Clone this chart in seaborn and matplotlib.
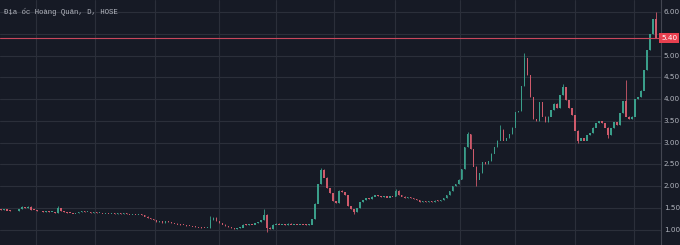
import numpy as np
import pandas as pd
import matplotlib
matplotlib.use("Agg")
import matplotlib.pyplot as plt
import seaborn as sns

title = "Địa ốc Hoàng Quân, D, HOSE"
last_price = 5.40
y_ticks = [1.0, 1.5, 2.0, 2.5, 3.0, 3.5, 4.0, 4.5, 5.0, 5.5, 6.0]

closes = [
    1.45, 1.48, 1.44, 1.43, 1.42, 1.43, 1.47, 1.52, 1.50, 1.53,
    1.46, 1.45, 1.43, 1.42, 1.41, 1.42, 1.40, 1.41, 1.39, 1.50,
    1.42, 1.40, 1.39, 1.38, 1.37, 1.38, 1.41, 1.42, 1.40, 1.41,
    1.39, 1.40, 1.38, 1.39, 1.37, 1.38, 1.37, 1.38, 1.36, 1.37,
    1.36, 1.37, 1.36, 1.35, 1.36, 1.35, 1.36, 1.33, 1.30, 1.27,
    1.25, 1.22, 1.18, 1.20, 1.16, 1.19, 1.17, 1.15, 1.14, 1.12,
    1.11, 1.10, 1.09, 1.08, 1.07, 1.06, 1.05, 1.04, 1.03, 1.04,
    1.22, 1.28, 1.20, 1.15, 1.12, 1.08, 1.06, 1.04, 1.02, 1.03,
    1.05, 1.12, 1.10, 1.13, 1.12, 1.16, 1.18, 1.22, 1.35, 1.05,
    1.02, 1.12, 1.14, 1.12, 1.13, 1.11, 1.14, 1.12, 1.13, 1.12,
    1.13, 1.12, 1.11, 1.12, 1.25, 1.60, 2.05, 2.38, 2.20, 1.95,
    1.84, 1.65, 1.62, 1.90, 1.86, 1.80, 1.55, 1.48, 1.40, 1.50,
    1.63, 1.68, 1.72, 1.70, 1.76, 1.79, 1.77, 1.75, 1.78, 1.74,
    1.77, 1.76, 1.90, 1.80, 1.76, 1.72, 1.74, 1.72, 1.70, 1.68,
    1.64, 1.66, 1.63, 1.65, 1.64, 1.67, 1.66, 1.68, 1.72, 1.80,
    1.88, 2.00, 2.05, 2.15, 2.40, 2.90, 3.20, 2.85, 2.45, 2.15,
    2.30, 2.55, 2.50, 2.58, 2.75, 2.90, 3.05, 3.30, 3.05, 3.10,
    3.20, 3.35, 3.70, 3.72, 4.30, 4.95, 4.55, 4.05, 3.55, 3.50,
    3.93, 3.60, 3.48, 3.60, 3.75, 3.90, 3.80, 4.10, 4.28, 3.98,
    3.80, 3.63, 3.28, 3.05, 3.10, 3.05, 3.17, 3.22, 3.35, 3.45,
    3.50, 3.45, 3.35, 3.17, 3.33, 3.47, 3.40, 3.68, 3.95, 3.60,
    3.55, 3.60, 4.00, 4.05, 4.20, 4.67, 5.13, 5.50, 5.85, 5.40,
]
first_open = 1.47
# explicit wick extremes (candle index -> price)
spike_highs = {7: 1.55, 19: 1.55, 70: 1.32, 88: 1.48, 107: 2.42, 132: 1.92,
               156: 3.25, 167: 3.40, 175: 5.05, 188: 4.35, 209: 4.43, 219: 6.00}
spike_lows = {89: 0.95, 118: 1.35, 159: 2.00, 193: 3.00, 203: 3.10}

opens = [first_open] + closes[:-1]
df = pd.DataFrame({"i": np.arange(len(closes)), "open": opens, "close": closes})
df["high"] = df[["open", "close"]].max(axis=1)
df["low"] = df[["open", "close"]].min(axis=1)
for k, v in spike_highs.items():
    df.loc[k, "high"] = max(df.loc[k, "high"], v)
for k, v in spike_lows.items():
    df.loc[k, "low"] = min(df.loc[k, "low"], v)
df["up"] = df["close"] >= df["open"]

BG = "#161a25"
GRID = "#2b2f3a"
UP = "#3a9e8a"
DOWN = "#cf5a6b"
TXT = "#b2b5be"

sns.set_theme(style="dark", rc={"axes.facecolor": BG, "figure.facecolor": BG})
plt.rcParams["font.family"] = ["DejaVu Sans"]

fig = plt.figure(figsize=(6.8, 2.45), dpi=100)
ax = fig.add_axes([0, 0, 661 / 680, 1])
ax.set_facecolor(BG)

grid_x = [11.6, 31.3, 51.5, 72.9, 92.0, 111.4, 131.8, 153.5, 171.9, 192.0, 211.7]
for gx in grid_x:
    ax.axvline(gx, color=GRID, lw=0.8, zorder=0)
for gy in y_ticks:
    ax.axhline(gy, color=GRID, lw=0.8, zorder=0)

colors = np.where(df["up"], UP, DOWN)
ax.vlines(df["i"], df["low"], df["high"], colors=colors, lw=0.6, zorder=2)
body_bottom = df[["open", "close"]].min(axis=1)
body_h = (df["close"] - df["open"]).abs().clip(lower=0.022)
ax.bar(df["i"], body_h, bottom=body_bottom - 0.005, width=0.5, color=colors,
       edgecolor="none", zorder=3)

ax.axhline(last_price, color="#c8475c", lw=0.8, zorder=4)

ax.set_xlim(-0.33, 220.7)
ax.set_ylim(0.644, 6.276)
ax.set_xticks([])
ax.set_yticks([])
for s in ["top", "left", "bottom"]:
    ax.spines[s].set_visible(False)
ax.spines["right"].set_color("#434651")
ax.spines["right"].set_linewidth(0.8)

for t in y_ticks:
    if abs(t - 5.5) < 1e-9:
        continue
    ax.text(1.004, (t - 0.644) / (6.276 - 0.644), f"{t:.2f}", transform=ax.transAxes,
            ha="left", va="center", fontsize=5.2, color=TXT, clip_on=False)

ax.text(1.0, (last_price - 0.644) / (6.276 - 0.644), f"{last_price:.2f}",
        transform=ax.transAxes, ha="left", va="center", fontsize=5.2, color="white",
        clip_on=False,
        bbox=dict(boxstyle="square,pad=0.25", fc="#e8404f", ec="none"))

ax.text(4 / 661, 1 - 12 / 245, title, transform=ax.transAxes, ha="left", va="center",
        fontsize=5.3, color=TXT,
        family=["Liberation Mono", "DejaVu Sans Mono", "DejaVu Sans"])

fig.savefig("out.png", dpi=100, facecolor=BG)
